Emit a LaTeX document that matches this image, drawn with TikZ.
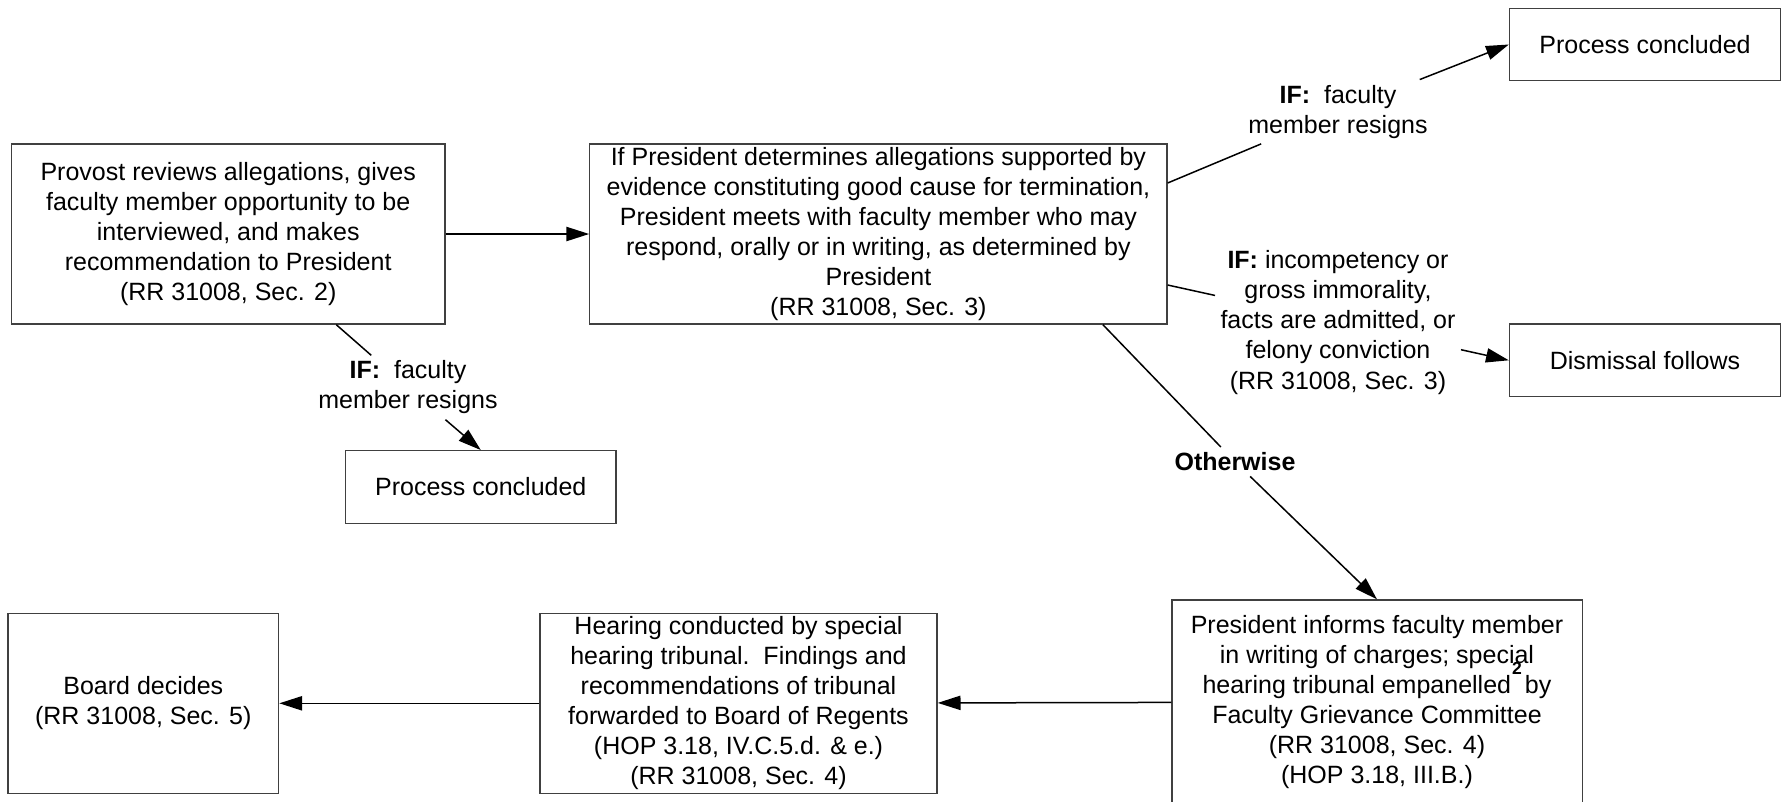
\documentclass[tikz,border=0pt]{standalone}
\usepackage{fontspec}
\setmainfont{Liberation Sans}
\usetikzlibrary{arrows.meta}
\tikzset{
  stepbox/.style={draw=black!75,line width=0.5pt,align=center,inner sep=0pt,font=\fontsize{10}{12}\selectfont},
  cond/.style={align=center,inner sep=2pt,font=\fontsize{10}{12}\selectfont},
  leg/.style={line width=0.6pt},
  flow/.style={line width=0.6pt,-{Triangle[length=0.32cm,width=0.2cm]}}
}
\begin{document}
\begin{tikzpicture}[x=0.01406cm,y=-0.01406cm]
\useasboundingbox (0,0) rectangle (1782,801);
%boxes
\node[stepbox,minimum width=6.095cm,minimum height=2.531cm](prov) at (228.2,234){Provost reviews allegations, gives\\faculty member opportunity to be\\interviewed, and makes\\recommendation to President\\(RR 31008, Sec. 2)};
\node[stepbox,minimum width=8.112cm,minimum height=2.531cm](pres) at (878.4,234){If President determines allegations supported by\\evidence constituting good cause for termination,\\President meets with faculty member who may\\respond, orally or in writing, as determined by\\President\\(RR 31008, Sec. 3)};
\node[stepbox,minimum width=3.81cm,minimum height=1.018cm](pctop) at (1645,44.5){Process concluded};
\node[stepbox,minimum width=3.81cm,minimum height=1.022cm](dism) at (1645,360.3){Dismissal follows};
\node[stepbox,minimum width=3.802cm,minimum height=1.021cm](pclow) at (480.8,487){Process concluded};
\node[stepbox,minimum width=5.765cm,minimum height=2.868cm](inform) at (1377,702){President informs faculty member\\in writing of charges; special\\hearing tribunal empanelled\ \ by\\Faculty Grievance Committee\\(RR 31008, Sec. 4)\\(HOP 3.18, III.B.)};
\node[font=\fontsize{7}{8}\selectfont\bfseries,inner sep=0pt](supr) at (1517,668){2};
\node[stepbox,minimum width=5.582cm,minimum height=2.531cm](hear) at (738.5,703.3){Hearing conducted by special\\hearing tribunal.\ \ Findings and\\recommendations of tribunal\\forwarded to Board of Regents\\(HOP 3.18, IV.C.5.d. \& e.)\\(RR 31008, Sec. 4)};
\node[stepbox,minimum width=3.805cm,minimum height=2.531cm](board) at (143.3,703.3){Board decides\\(RR 31008, Sec. 5)};
%conditions
\node[cond](ifA) at (408,387.5){\textbf{IF:}\ \ faculty\\member resigns};
\node[cond](ifB) at (1338,111.7){\textbf{IF:}\ \ faculty\\member resigns};
\node[cond](ifC) at (1338,322.5){\textbf{IF:} incompetency or\\gross immorality,\\facts are admitted, or\\felony conviction\\(RR 31008, Sec. 3)};
\node[cond,font=\fontsize{10}{12}\selectfont\bfseries](ifD) at (1235,461.7){Otherwise};
%connectors
\draw[flow](prov)--(pres);
\foreach \src/\lb/\dst in {prov.-40/ifA/pclow.north,pres.10.6/ifB/pctop.west,pres.-10/ifC/dism.west,pres.-22.6/ifD/inform.north}{
\draw[leg](\src)--(\lb);
\draw[flow](\lb)--(\dst);
}
\draw[flow](inform)--(hear);
\draw[flow](hear)--(board);
\end{tikzpicture}
\end{document}
